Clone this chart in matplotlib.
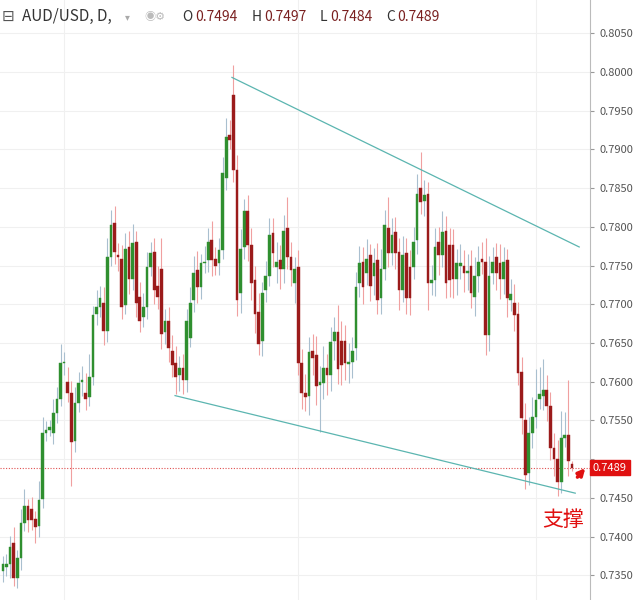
import matplotlib
matplotlib.use("Agg")
import matplotlib.pyplot as plt
import numpy as np

plt.rcParams['font.family'] = ['Noto Sans CJK SC', 'DejaVu Sans']

# prices in units of 0.0001
opens = [7356,7361,7365,7392,7346,7372,7417,7440,7436,7423,
         7414,7449,7534,7538,7534,7559,7578,7624,7599,7586,
         7524,7573,7599,7586,7580,7606,7688,7696,7702,7666,
         7761,7805,7764,7759,7699,7774,7733,7780,7709,7683,
         7696,7748,7767,7724,7745,7664,7679,7640,7624,7608,
         7618,7602,7657,7705,7744,7722,7753,7757,7783,7759,
         7753,7770,7863,7918,7970,7873,7714,7774,7821,7776,
         7731,7690,7653,7718,7736,7792,7748,7757,7745,7798,
         7761,7727,7748,7624,7585,7582,7640,7634,7596,7598,
         7618,7608,7653,7664,7653,7653,7623,7625,7643,7727,
         7754,7740,7763,7737,7757,7708,7746,7799,7766,7793,
         7767,7718,7766,7748,7748,7783,7850,7834,7843,7727,
         7731,7780,7763,7794,7776,7777,7732,7750,7750,7740,
         7750,7710,7736,7758,7755,7660,7741,7761,7753,7733,
         7757,7706,7701,7688,7612,7551,7482,7534,7555,7577,
         7582,7589,7569,7514,7500,7470,7527,7531,7494]
closes = [7365,7365,7386,7346,7372,7417,7440,7421,7421,7412,
          7447,7534,7537,7541,7559,7578,7624,7626,7586,7522,
          7573,7598,7602,7578,7606,7686,7696,7708,7666,7761,
          7802,7767,7761,7696,7772,7733,7779,7702,7679,7696,
          7748,7766,7718,7709,7662,7679,7643,7621,7606,7618,
          7602,7679,7702,7740,7722,7753,7755,7780,7757,7750,
          7770,7870,7916,7912,7873,7705,7772,7821,7776,7727,
          7688,7649,7714,7736,7789,7766,7755,7745,7795,7761,
          7744,7746,7624,7585,7580,7638,7631,7595,7600,7618,
          7608,7651,7664,7617,7621,7624,7625,7640,7722,7753,
          7722,7759,7724,7753,7705,7746,7802,7766,7789,7766,
          7718,7763,7708,7708,7780,7843,7832,7841,7727,7731,
          7774,7763,7793,7728,7731,7733,7753,7753,7741,7743,
          7715,7736,7755,7754,7660,7737,7754,7741,7732,7754,
          7708,7713,7686,7611,7553,7479,7534,7555,7576,7584,
          7589,7569,7514,7500,7470,7527,7531,7498,7489]
upper_wick = [10,12,15,20,10,18,22,8,15,10,
              25,20,12,10,18,15,25,12,20,15,
              20,15,18,25,30,12,22,15,20,25,
              20,22,15,18,20,20,25,15,20,18,
              20,15,18,25,40,15,18,20,22,15,
              18,15,20,22,25,12,20,18,25,15,
              15,20,25,20,39,20,25,15,20,22,
              18,25,15,20,22,20,25,20,20,40,
              20,15,22,18,25,20,22,25,20,28,
              18,20,20,35,25,20,25,18,20,22,
              20,25,15,20,22,25,20,40,22,20,
              18,25,20,22,20,25,47,20,15,20,
              25,20,28,20,22,20,18,25,20,22,
              20,25,20,22,30,25,20,18,25,20,
              15,20,25,15,20,22,20,25,40,35,
              40,20,18,20,25,35,30,71,8]
lower_wick = [15,12,18,10,12,15,10,15,12,20,
              15,12,10,8,15,12,10,15,12,57,
              15,12,18,15,12,10,15,12,18,15,
              12,15,18,15,12,20,15,18,15,12,
              15,12,18,15,20,15,18,15,22,20,
              18,15,12,15,20,15,12,15,20,12,
              15,12,15,12,15,20,25,15,20,22,
              25,15,20,15,12,18,20,25,18,15,
              20,25,15,20,18,25,22,25,61,20,
              25,20,25,20,25,22,25,20,15,18,
              22,15,20,25,18,20,15,18,15,20,
              25,15,20,22,15,18,15,20,35,15,
              20,25,15,20,22,25,20,18,25,22,
              20,25,20,15,25,20,15,22,25,20,
              25,15,20,15,20,18,15,20,15,12,
              18,20,15,22,18,14,12,20,5]

opens = np.array(opens) / 10000
closes = np.array(closes) / 10000
highs = np.maximum(opens, closes) + np.array(upper_wick) / 10000
lows = np.minimum(opens, closes) - np.array(lower_wick) / 10000
highs[-1] = 0.7497
lows[-1] = 0.7484

y_ticks = [0.7350,0.7400,0.7450,0.7500,0.7550,0.7600,0.7650,0.7700,
           0.7750,0.7800,0.7850,0.7900,0.7950,0.8000,0.8050]
upper_line_x = [63.6, 160.0]
upper_line_y = [0.7993, 0.7774]
lower_line_x = [47.8, 158.9]
lower_line_y = [0.7582, 0.7456]
last_price = 0.7489

fig = plt.figure(figsize=(6.41, 6.0), dpi=100)
ax = fig.add_axes([0, 0, 590/641, 1])
n = len(opens)
x = np.arange(n)
GREEN, RED = '#2f8f2f', '#9b1b1b'
for i in range(n):
    up = closes[i] >= opens[i]
    c = GREEN if up else RED
    wc = '#a9bfcf' if up else '#f0a0a0'
    ax.vlines(x[i], lows[i], highs[i], color=wc, lw=0.8, zorder=2)
    b = min(opens[i], closes[i]); h = max(abs(closes[i]-opens[i]), 0.00004)
    ax.bar(x[i], h, bottom=b, width=0.75, color=c, edgecolor=c, lw=0.3, zorder=3)

ax.plot(upper_line_x, upper_line_y, color='#5bb5b0', lw=0.9, zorder=4)
ax.plot(lower_line_x, lower_line_y, color='#5bb5b0', lw=0.9, zorder=4)
ax.axhline(last_price, color='#e05050', lw=0.8, ls=(0, (1, 1.5)), zorder=1)

ax.set_xlim(-0.8, 163)
ax.set_ylim(0.7318, 0.8093)
ax.set_yticks(y_ticks)
ax.yaxis.tick_right()
ax.set_yticklabels(['' if abs(v - 0.75) < 1e-9 else f'{v:.4f}' for v in y_ticks],
                   fontsize=8, color='#555555')
ax.tick_params(axis='y', length=3, color='#999999', pad=4)
ax.set_xticks([])
for s in ['top', 'left', 'bottom']:
    ax.spines[s].set_visible(False)
ax.spines['right'].set_color('#bbbbbb')
ax.grid(axis='y', color='#f0f0f0', lw=0.8, zorder=0)
for gx in [17, 82, 148]:
    ax.axvline(gx, color='#f0f0f0', lw=0.8, zorder=0)

ax.text(1.005, last_price, f'{last_price:.4f}', transform=ax.get_yaxis_transform(),
        fontsize=8, color='white', va='center', ha='left',
        bbox=dict(boxstyle='square,pad=0.25', fc='#e01010', ec='#e01010'), zorder=6, clip_on=False)

ax.annotate('', xy=(162.2, 0.7491), xytext=(159.0, 0.7474), annotation_clip=False,
            arrowprops=dict(arrowstyle='-|>', color='#e01010', lw=2.5, mutation_scale=10))
ax.text(155.5, 0.7421, '支撑', fontsize=15, color='#e01010', ha='center', va='center')

fig.text(0.002, 0.972, '⊟', fontsize=11, color='#555555', va='center')
fig.text(0.035, 0.972, 'AUD/USD, D,', fontsize=11, color='#333333', va='center')
fig.text(0.195, 0.972, '▾', fontsize=7, color='#aaaaaa', va='center')
fig.text(0.225, 0.972, '◉⚙', fontsize=8, color='#bbbbbb', va='center')
fig.text(0.285, 0.972, 'O', fontsize=10, color='#333333', va='center')
fig.text(0.305, 0.972, '0.7494', fontsize=10, color='#7a2020', va='center')
fig.text(0.392, 0.972, 'H', fontsize=10, color='#333333', va='center')
fig.text(0.412, 0.972, '0.7497', fontsize=10, color='#7a2020', va='center')
fig.text(0.499, 0.972, 'L', fontsize=10, color='#333333', va='center')
fig.text(0.515, 0.972, '0.7484', fontsize=10, color='#7a2020', va='center')
fig.text(0.602, 0.972, 'C', fontsize=10, color='#333333', va='center')
fig.text(0.620, 0.972, '0.7489', fontsize=10, color='#7a2020', va='center')

fig.savefig('out.png', dpi=100)
